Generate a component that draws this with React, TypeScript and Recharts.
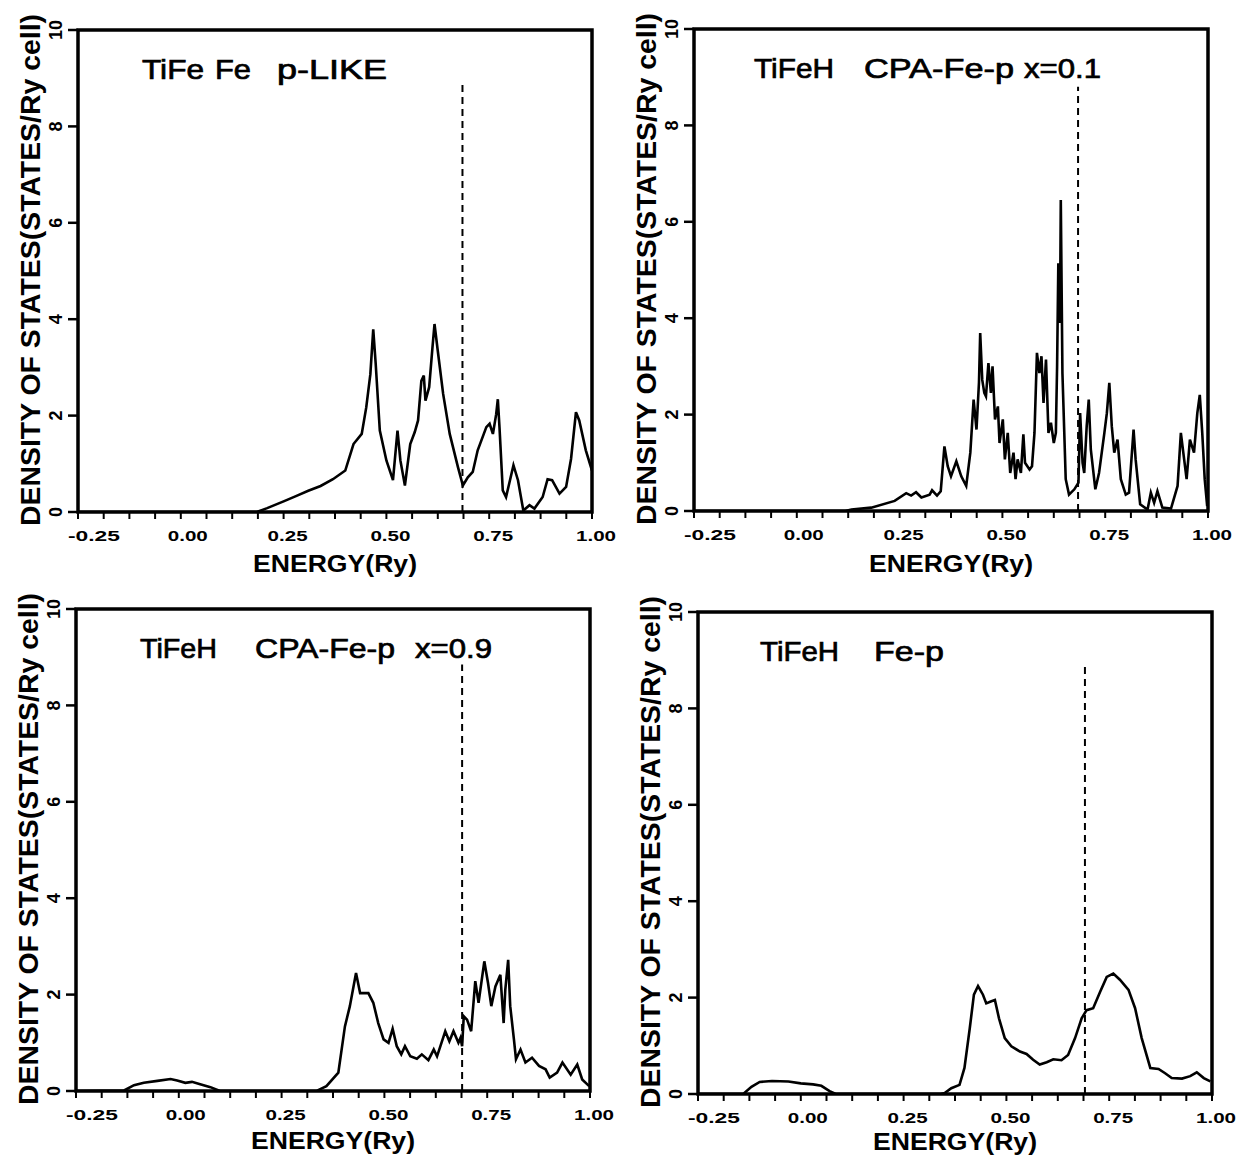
import { LineChart, Line, XAxis, YAxis, ReferenceLine, ReferenceArea } from 'recharts';

// energy axis (Ry): majors every 0.25, three minor ticks between
const X_TICKS = [
  -0.25, -0.1875, -0.125, -0.0625, 0, 0.0625, 0.125, 0.1875, 0.25, 0.3125, 0.375,
  0.4375, 0.5, 0.5625, 0.625, 0.6875, 0.75, 0.8125, 0.875, 0.9375, 1,
];
const X_MAJOR = [-0.25, 0, 0.25, 0.5, 0.75, 1];
const X_LABELS = ['-0.25', '0.00', '0.25', '0.50', '0.75', '1.00'];
const Y_TICKS = [0, 2, 4, 6, 8, 10];
const Y_LABELS = ['0', '2', '4', '6', '8', '10'];

type Pt = [number, number];

// [energy, DOS]
const tifeFeP: Pt[] = [
  [-0.25, 0], [0.185, 0], [0.21, 0.08], [0.25, 0.22], [0.28, 0.33], [0.31, 0.44], [0.34, 0.54],
  [0.37, 0.68], [0.4, 0.86], [0.42, 1.41], [0.44, 1.62], [0.451, 2.17], [0.461, 2.86], [0.468, 3.79],
  [0.474, 3.07], [0.484, 1.69], [0.5, 1.07], [0.516, 0.66], [0.527, 1.69], [0.534, 1.07], [0.545, 0.55],
  [0.558, 1.41], [0.569, 1.66], [0.577, 1.9], [0.585, 2.72], [0.591, 2.83], [0.595, 2.31], [0.604, 2.59],
  [0.612, 3.41], [0.617, 3.9], [0.625, 3.34], [0.638, 2.45], [0.654, 1.62], [0.674, 0.93], [0.686, 0.55],
  [0.698, 0.72], [0.71, 0.83], [0.722, 1.28], [0.743, 1.76], [0.751, 1.83], [0.759, 1.62], [0.767, 2.03],
  [0.771, 2.34], [0.775, 1.76], [0.783, 0.45], [0.791, 0.31], [0.809, 0.97], [0.82, 0.66], [0.833, 0.03],
  [0.848, 0.14], [0.86, 0.07], [0.88, 0.31], [0.892, 0.68], [0.903, 0.66], [0.921, 0.38], [0.937, 0.52],
  [0.949, 1.1], [0.961, 2.07], [0.969, 1.9], [0.985, 1.28], [1.0, 0.86],
];

const cpaX01: Pt[] = [
  [-0.25, 0], [0.118, 0], [0.133, 0.03], [0.181, 0.07], [0.238, 0.21], [0.266, 0.37], [0.278, 0.32],
  [0.29, 0.39], [0.303, 0.28], [0.323, 0.34], [0.329, 0.43], [0.341, 0.32], [0.35, 0.41], [0.359, 1.34],
  [0.367, 0.93], [0.375, 0.72], [0.388, 1.03], [0.4, 0.72], [0.412, 0.52], [0.422, 1.21], [0.43, 2.31],
  [0.437, 1.69], [0.443, 2.66], [0.446, 3.69], [0.451, 2.72], [0.456, 2.45], [0.46, 2.38], [0.466, 3.07],
  [0.472, 2.45], [0.476, 3.0], [0.482, 1.9], [0.489, 2.17], [0.493, 1.41], [0.501, 1.9], [0.506, 1.07],
  [0.513, 1.62], [0.519, 0.79], [0.527, 1.21], [0.532, 0.66], [0.537, 1.07], [0.545, 0.79], [0.551, 1.59],
  [0.555, 1.0], [0.566, 0.86], [0.572, 0.93], [0.578, 1.62], [0.584, 3.28], [0.59, 2.86], [0.595, 3.21],
  [0.6, 2.24], [0.606, 3.14], [0.612, 1.62], [0.618, 1.83], [0.625, 1.41], [0.63, 1.62], [0.633, 3.0],
  [0.636, 5.14], [0.64, 3.9], [0.642, 6.45], [0.646, 2.86], [0.654, 0.66], [0.662, 0.34], [0.675, 0.45],
  [0.685, 0.59], [0.689, 2.03], [0.695, 1.0], [0.699, 0.79], [0.705, 1.76], [0.71, 2.31], [0.715, 1.28],
  [0.726, 0.45], [0.735, 0.79], [0.748, 1.62], [0.754, 2.03], [0.76, 2.66], [0.766, 1.76], [0.772, 1.21],
  [0.78, 1.48], [0.788, 0.66], [0.8, 0.34], [0.808, 0.38], [0.819, 1.69], [0.824, 1.07], [0.835, 0.14],
  [0.853, 0.03], [0.861, 0.38], [0.869, 0.17], [0.877, 0.41], [0.889, 0.07], [0.91, 0.05], [0.926, 0.52],
  [0.934, 1.62], [0.942, 1.07], [0.948, 0.66], [0.956, 1.48], [0.966, 1.21], [0.974, 2.03], [0.98, 2.41],
  [0.986, 1.62], [0.992, 0.66], [0.998, 0.1],
];

const cpaX09: Pt[] = [
  [-0.25, 0], [-0.133, 0.01], [-0.109, 0.12], [-0.085, 0.17], [-0.052, 0.21], [-0.02, 0.25], [-0.004, 0.22],
  [0.016, 0.17], [0.032, 0.19], [0.052, 0.14], [0.077, 0.08], [0.097, 0.01], [0.1, 0], [0.335, 0],
  [0.339, 0.02], [0.359, 0.1], [0.388, 0.38], [0.404, 1.34], [0.416, 1.76], [0.431, 2.45], [0.441, 2.03],
  [0.461, 2.03], [0.473, 1.83], [0.485, 1.41], [0.498, 1.07], [0.51, 1.0], [0.52, 1.29], [0.53, 0.93],
  [0.541, 0.76], [0.55, 0.93], [0.563, 0.72], [0.579, 0.67], [0.591, 0.76], [0.607, 0.64], [0.62, 0.86],
  [0.628, 0.72], [0.648, 1.24], [0.658, 1.03], [0.668, 1.24], [0.68, 1.0], [0.685, 1.1], [0.689, 0.93],
  [0.693, 1.55], [0.701, 1.48], [0.711, 1.24], [0.721, 2.28], [0.729, 1.83], [0.743, 2.69], [0.752, 2.24],
  [0.76, 1.76], [0.77, 2.17], [0.782, 2.41], [0.79, 1.41], [0.794, 2.1], [0.801, 2.72], [0.806, 1.76],
  [0.815, 1.07], [0.82, 0.66], [0.831, 0.86], [0.843, 0.59], [0.859, 0.69], [0.876, 0.52], [0.892, 0.45],
  [0.902, 0.28], [0.92, 0.38], [0.933, 0.59], [0.953, 0.34], [0.969, 0.55], [0.981, 0.24], [0.998, 0.1],
];

const tifehFeP: Pt[] = [
  [-0.25, 0], [-0.14, 0], [-0.12, 0.15], [-0.1, 0.25], [-0.07, 0.27], [-0.03, 0.26], [0, 0.22],
  [0.03, 0.2], [0.05, 0.17], [0.07, 0.06], [0.085, 0], [0.34, 0], [0.35, 0.02], [0.366, 0.12],
  [0.386, 0.19], [0.398, 0.54], [0.411, 1.37], [0.421, 2.06], [0.431, 2.24], [0.443, 2.06], [0.451, 1.88],
  [0.462, 1.92], [0.472, 1.95], [0.482, 1.57], [0.496, 1.16], [0.512, 0.99], [0.533, 0.88], [0.549, 0.83],
  [0.565, 0.71], [0.581, 0.61], [0.598, 0.66], [0.614, 0.72], [0.634, 0.7], [0.65, 0.81], [0.667, 1.16],
  [0.683, 1.57], [0.695, 1.74], [0.711, 1.78], [0.728, 2.12], [0.744, 2.43], [0.76, 2.5], [0.776, 2.37],
  [0.797, 2.16], [0.813, 1.78], [0.829, 1.16], [0.85, 0.54], [0.87, 0.52], [0.886, 0.43], [0.902, 0.33],
  [0.927, 0.32], [0.947, 0.37], [0.963, 0.45], [0.98, 0.33], [0.996, 0.26],
];

const FERMI = [0.685, 0.684, 0.689, 0.691];
const FERMI_TOP = [8.9, 8.8, 8.85, 8.95];

const FONT = '"Liberation Sans", Arial, sans-serif';
const W = 620;
const H = 592;
const margin = { top: 30, right: 28, bottom: 50, left: 30 };

type Seg = { text: string; x: number; w: number };

const panels: { data: Pt[]; left: number; top: number; xTitleY: number; title: Seg[] }[] = [
  {
    data: tifeFeP, left: 0, top: 0, xTitleY: 572,
    title: [{ text: 'TiFe', x: 142, w: 62 }, { text: 'Fe', x: 215, w: 36 }, { text: 'p-LIKE', x: 277, w: 110 }],
  },
  {
    data: cpaX01, left: 616, top: -1, xTitleY: 573,
    title: [{ text: 'TiFeH', x: 138, w: 80 }, { text: 'CPA-Fe-p', x: 248, w: 150 }, { text: 'x=0.1', x: 408, w: 77 }],
  },
  {
    data: cpaX09, left: -2, top: 579, xTitleY: 570,
    title: [{ text: 'TiFeH', x: 142, w: 77 }, { text: 'CPA-Fe-p', x: 257, w: 140 }, { text: 'x=0.9', x: 417, w: 77 }],
  },
  {
    data: tifehFeP, left: 620, top: 582, xTitleY: 568,
    title: [{ text: 'TiFeH', x: 140, w: 79 }, { text: 'Fe-p', x: 254, w: 70 }],
  },
];

function XTick(props: any) {
  const { x, y, payload } = props;
  const i = X_MAJOR.findIndex((v) => Math.abs(v - payload.value) < 1e-6);
  if (i < 0) return <g />;
  const lab = X_LABELS[i];
  const dx = i === 0 ? 16 : i === 1 ? 7 : 4;
  return (
    <text x={x + dx} y={y} dy={22} textAnchor="middle" fontFamily={FONT} fontWeight="bold" fontSize={15}
      textLength={lab.length > 4 ? 52 : 40} lengthAdjust="spacingAndGlyphs" fill="#000">
      {lab}
    </text>
  );
}

function YTick(props: any) {
  const { x, y, payload } = props;
  const i = Y_TICKS.indexOf(payload.value);
  return (
    <text transform={`translate(${x - 12},${y}) rotate(-90)`} textAnchor="middle" dominantBaseline="central"
      fontFamily={FONT} fontWeight="bold" fontSize={18} fill="#000">
      {Y_LABELS[i]}
    </text>
  );
}

function Panel({ idx }: { idx: number }) {
  const p = panels[idx];
  const data = p.data.map(([e, d]) => ({ e, d }));
  return (
    <div style={{ position: 'absolute', left: p.left, top: p.top, width: W, height: H }}>
      <LineChart width={W} height={H} data={data} margin={margin}>
        <XAxis
          dataKey="e" type="number" domain={[-0.25, 1]} ticks={X_TICKS} interval={0} allowDataOverflow
          height={30} tickSize={7} tickMargin={0} axisLine={false}
          tickLine={{ stroke: '#000', strokeWidth: 2 }}
          tick={(t: any) => <XTick {...t} />}
          label={{
            content: () => (
              <text x={335} y={p.xTitleY} textAnchor="middle" fontFamily={FONT} fontWeight="bold" fontSize={24}
                textLength={164} lengthAdjust="spacingAndGlyphs" fill="#000">
                ENERGY(Ry)
              </text>
            ),
          }}
        />
        <YAxis
          type="number" domain={[0, 10]} ticks={Y_TICKS} interval={0} allowDataOverflow
          width={48} tickSize={10} tickMargin={0} axisLine={false}
          tickLine={{ stroke: '#000', strokeWidth: 2.5 }}
          tick={(t: any) => <YTick {...t} />}
          label={{
            content: () => (
              <text transform="translate(30,270) rotate(-90)" textAnchor="middle" dominantBaseline="central"
                fontFamily={FONT} fontWeight="bold" fontSize={28} textLength={512}
                lengthAdjust="spacingAndGlyphs" fill="#000">
                DENSITY OF STATES(STATES/Ry cell)
              </text>
            ),
          }}
        />
        <ReferenceArea x1={-0.25} x2={1} y1={0} y2={10} fill="none" fillOpacity={0} stroke="#000"
          strokeWidth={3.5} ifOverflow="visible" />
        <ReferenceLine
          segment={[{ x: FERMI[idx], y: 0 }, { x: FERMI[idx], y: FERMI_TOP[idx] }]}
          stroke="#000" strokeWidth={2} strokeDasharray="7 5"
        />
        <Line type="linear" dataKey="d" stroke="#000" strokeWidth={2.6} dot={false} activeDot={false}
          isAnimationActive={false} />
      </LineChart>
      <svg width={W} height={120} style={{ position: 'absolute', left: 0, top: 0, pointerEvents: 'none' }}>
        {p.title.map((s) => (
          <text key={s.text} x={s.x} y={79} fontFamily={FONT} fontSize={27} textLength={s.w}
            lengthAdjust="spacingAndGlyphs" fill="#000" stroke="#000" strokeWidth={0.7}>
            {s.text}
          </text>
        ))}
      </svg>
    </div>
  );
}

export default function App() {
  return (
    <div style={{ position: 'absolute', left: 0, top: 0, width: 1248, height: 1156, background: '#fff', overflow: 'hidden' }}>
      {panels.map((_, i) => (
        <Panel key={i} idx={i} />
      ))}
    </div>
  );
}
